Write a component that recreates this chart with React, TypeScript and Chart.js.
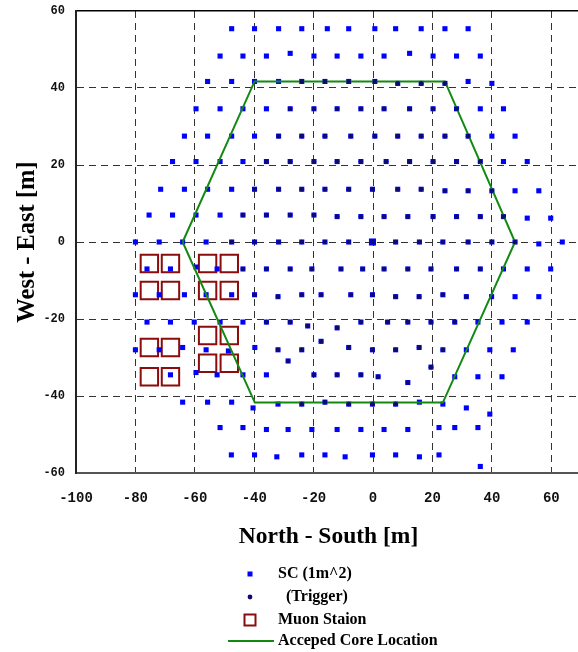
import React, { useEffect, useRef } from "react";
import { Chart, registerables } from "chart.js";

Chart.register(...registerables);

type P = [number, number];

// ---- data ----
const scPoints: P[] = [
  [-47.6, 55.4], [-39.9, 55.4], [-31.8, 55.4], [-24.0, 55.4], [-15.4, 55.4], [-8.2, 55.4], [0.6, 55.4], [7.6, 55.4], [16.2, 55.4], [24.2, 55.4], [32.0, 55.4],
  [-51.5, 48.3], [-43.8, 48.3], [-35.9, 48.3], [-27.9, 49.0], [-19.9, 48.3], [-12.1, 48.3], [-4.1, 48.3], [3.7, 48.3], [12.3, 49.0], [20.2, 48.3], [28.1, 48.3], [36.1, 48.3],
  [-55.7, 41.7], [-47.6, 41.7], [-39.9, 41.7], [-31.8, 41.7], [-24.0, 41.7], [-16.2, 41.7], [-8.2, 41.7], [0.6, 41.7], [8.3, 41.2], [16.2, 41.2], [24.2, 41.2], [32.0, 41.7], [40.0, 41.2],
  [-59.6, 34.6], [-51.5, 34.6], [-43.8, 34.6], [-35.9, 34.6], [-27.9, 34.6], [-19.9, 34.6], [-12.1, 34.6], [-4.1, 34.6], [3.7, 34.6], [12.3, 34.6], [20.2, 34.6], [28.1, 34.6], [36.1, 34.6], [43.9, 34.6],
  [-63.5, 27.5], [-55.7, 27.5], [-47.6, 27.5], [-39.9, 27.5], [-31.8, 27.5], [-24.0, 27.5], [-16.2, 27.5], [-7.5, 27.5], [0.6, 27.5], [8.3, 27.5], [16.2, 27.5], [24.2, 27.5], [32.0, 27.5], [40.0, 27.5], [47.8, 27.5],
  [-67.5, 20.9], [-59.6, 20.9], [-51.5, 20.9], [-43.8, 20.9], [-35.9, 20.9], [-27.9, 20.9], [-19.9, 20.9], [-12.1, 20.9], [-4.1, 20.9], [4.4, 20.9], [12.3, 20.9], [20.2, 20.9], [28.1, 20.9], [36.1, 20.9], [43.9, 20.9], [51.9, 20.9],
  [-71.5, 13.7], [-63.5, 13.7], [-55.7, 13.7], [-47.6, 13.7], [-39.9, 13.7], [-31.8, 13.7], [-24.0, 13.7], [-16.2, 13.7], [-8.2, 13.7], [-0.2, 13.7], [8.3, 13.7], [16.2, 13.7], [24.2, 13.3], [32.0, 13.3], [40.0, 13.3], [47.8, 13.3], [55.8, 13.3],
  [-75.4, 7.0], [-67.5, 7.0], [-59.6, 7.0], [-51.5, 7.0], [-43.8, 7.0], [-35.9, 7.0], [-27.9, 7.0], [-19.9, 7.0], [-12.1, 6.6], [-4.1, 6.6], [3.7, 6.6], [11.7, 6.6], [20.2, 6.6], [28.1, 6.6], [36.1, 6.6], [43.9, 6.6], [51.9, 6.2], [59.8, 6.2],
  [-80.0, 0], [-72.0, 0], [-64.1, 0], [-56.2, 0], [-47.6, 0], [-39.9, 0], [-31.8, 0], [-24.0, 0], [-16.2, 0], [-8.2, 0], [7.6, 0], [15.6, 0], [23.5, 0], [32.0, 0], [40.0, 0], [47.8, 0], [55.8, -0.5], [63.7, 0],
  [-76.1, -7.0], [-68.2, -7.0], [-59.6, -6.5], [-52.5, -7.0], [-43.8, -7.0], [-35.9, -7.0], [-27.9, -7.0], [-20.6, -7.0], [-10.8, -7.0], [-3.5, -7.0], [3.7, -7.0], [11.7, -7.0], [19.5, -7.0], [28.1, -7.0], [36.1, -7.0], [43.9, -7.0], [51.9, -7.0], [59.8, -7.0],
  [-80.0, -13.7], [-72.0, -13.7], [-63.5, -13.7], [-56.2, -13.7], [-47.6, -13.7], [-39.9, -13.7], [-32.0, -14.2], [-24.0, -13.7], [-17.5, -13.7], [-7.5, -13.7], [-0.2, -13.7], [7.6, -14.2], [15.5, -14.2], [23.5, -13.7], [31.4, -14.2], [39.9, -14.2], [47.8, -14.2], [55.8, -14.2],
  [-76.1, -20.8], [-68.2, -20.8], [-60.2, -20.8], [-51.5, -20.8], [-43.8, -20.8], [-35.9, -20.8], [-27.9, -20.8], [-22.0, -21.8], [-12.1, -22.3], [-4.1, -20.8], [4.9, -20.8], [11.7, -20.8], [19.5, -20.8], [27.5, -20.8], [35.3, -20.8], [43.4, -20.8], [51.9, -20.8],
  [-80.0, -28.0], [-72.0, -28.0], [-64.1, -27.4], [-56.2, -28.0], [-48.7, -28.3], [-39.8, -27.4], [-32.0, -28.0], [-24.0, -28.0], [-17.5, -25.8], [-8.2, -27.4], [-0.2, -28.0], [7.6, -28.0], [15.5, -27.4], [23.5, -28.0], [31.4, -28.0], [39.3, -28.0], [47.2, -28.0], [-28.6, -30.9],
  [-68.2, -34.5], [-59.6, -33.9], [-52.5, -34.5], [-43.8, -34.5], [-35.9, -34.5], [-19.9, -34.5], [-12.1, -34.5], [-4.1, -34.5], [1.7, -35.0], [11.7, -36.5], [19.5, -32.5], [27.5, -35.0], [35.3, -35.0], [43.4, -35.0],
  [-64.1, -41.6], [-55.7, -41.6], [-47.6, -41.6], [-40.4, -43.1], [-32.0, -42.1], [-24.0, -42.1], [-16.2, -41.6], [-8.2, -42.1], [-0.2, -42.1], [7.6, -42.1], [15.6, -41.6], [23.5, -42.1], [31.4, -43.1], [39.3, -44.7],
  [-51.5, -48.2], [-43.8, -48.2], [-35.9, -48.7], [-28.6, -48.7], [-20.6, -48.7], [-12.1, -48.7], [-4.1, -48.7], [3.7, -48.7], [11.7, -48.7], [22.2, -48.2], [27.5, -48.2], [35.3, -48.2],
  [-47.7, -55.3], [-39.9, -55.3], [-32.4, -55.8], [-24.0, -55.3], [-16.2, -55.3], [-9.4, -55.8], [-0.2, -55.3], [7.6, -55.3], [15.6, -55.8], [22.2, -55.3], [36.1, -58.3],
];

const scLarge: P[] = [[-0.2, 0]];

const triggerPoints: P[] = [
  [-24.0, 41.7], [-16.2, 41.7], [-8.2, 41.7], [0.6, 41.7], [8.3, 41.2], [16.2, 41.2], [24.2, 41.2],
  [-27.9, 34.6], [-19.9, 34.6], [-12.1, 34.6], [-4.1, 34.6], [3.7, 34.6], [12.3, 34.6], [20.2, 34.6], [28.1, 34.6],
  [-31.8, 27.5], [-24.0, 27.5], [-16.2, 27.5], [-7.5, 27.5], [0.6, 27.5], [8.3, 27.5], [16.2, 27.5], [24.2, 27.5], [32.0, 27.5],
  [-35.9, 20.9], [-27.9, 20.9], [-19.9, 20.9], [-12.1, 20.9], [-4.1, 20.9], [4.4, 20.9], [12.3, 20.9], [20.2, 20.9], [28.1, 20.9], [36.1, 20.9],
  [-39.9, 13.7], [-31.8, 13.7], [-24.0, 13.7], [-16.2, 13.7], [-8.2, 13.7], [-0.2, 13.7], [8.3, 13.7], [16.2, 13.7], [24.2, 13.3], [32.0, 13.3], [40.0, 13.3],
  [-43.8, 7.0], [-35.9, 7.0], [-27.9, 7.0], [-19.9, 7.0], [-12.1, 6.6], [-4.1, 6.6], [3.7, 6.6], [11.7, 6.6], [20.2, 6.6], [28.1, 6.6], [36.1, 6.6], [43.9, 6.6],
  [-47.6, 0], [-39.9, 0], [-31.8, 0], [-24.0, 0], [-16.2, 0], [-8.2, 0], [-0.2, 0], [7.6, 0], [15.6, 0], [23.5, 0], [32.0, 0], [40.0, 0], [47.8, 0],
  [-43.8, -7.0], [-35.9, -7.0], [-27.9, -7.0], [-20.6, -7.0], [-10.8, -7.0], [-3.5, -7.0], [3.7, -7.0], [11.7, -7.0], [19.5, -7.0], [28.1, -7.0], [36.1, -7.0],
  [-39.9, -13.7], [-32.0, -14.2], [-24.0, -13.7], [-17.5, -13.7], [-7.5, -13.7], [-0.2, -13.7], [7.6, -14.2], [15.5, -14.2], [23.5, -13.7], [31.4, -14.2],
  [-35.9, -20.8], [-27.9, -20.8], [-22.0, -21.8], [-12.1, -22.3], [-4.1, -20.8], [4.9, -20.8], [11.7, -20.8], [19.5, -20.8], [27.5, -20.8],
  [-32.0, -28.0], [-24.0, -28.0], [-17.5, -25.8], [-8.2, -27.4], [-0.2, -28.0], [7.6, -28.0], [15.5, -27.4], [23.5, -28.0], [-28.6, -30.9],
  [-19.9, -34.5], [-12.1, -34.5], [-4.1, -34.5], [1.7, -35.0], [11.7, -36.5], [19.5, -32.5],
  [-24.0, -42.1], [-16.2, -41.6], [-8.2, -42.1], [-0.2, -42.1], [7.6, -42.1],
];

const muonStations: P[] = [
  [-75.3, -5.6], [-68.2, -5.6], [-55.7, -5.6], [-48.4, -5.6],
  [-75.3, -12.6], [-68.2, -12.6], [-55.7, -12.6], [-48.4, -12.6],
  [-55.7, -24.3], [-48.4, -24.3],
  [-75.3, -27.4], [-68.2, -27.4],
  [-55.7, -31.5], [-48.4, -31.5],
  [-75.3, -35.0], [-68.2, -35.0],
];

const coreHexagon: P[] = [
  [-64.1, 0], [-39.9, 41.7], [24.2, 41.7], [47.8, 0], [23.5, -41.7], [-39.8, -41.7], [-64.1, 0],
];

const xTicks = [-100, -80, -60, -40, -20, 0, 20, 40, 60];
const yTicks = [-60, -40, -20, 0, 20, 40, 60];
const xRange: [number, number] = [-100, 70];
const yRange: [number, number] = [-60, 60];
const xTitle = "North - South [m]";
const yTitle = "West - East [m]";
const legendLabels = ["SC (1m^2)", "  (Trigger)", "Muon Staion", "Acceped Core Location"];

// ---- styles ----
const BLUE = "#0000ff";
const NAVY = "#0c0c70";
const MAROON = "#8a0c0c";
const GREEN = "#128a12";
const SERIF = "'Liberation Serif', 'Times New Roman', serif";
const MONO = "'Liberation Mono', 'Courier New', monospace";
const CLEAR = "rgba(0,0,0,0)";
const CANVAS_W = 584;
const CANVAS_H = 652;

const toXY = (arr: P[]) => arr.map(([x, y]) => ({ x, y }));

const legendPlugin = {
  id: "customLegend",
  afterDraw(chart: any) {
    const ctx: CanvasRenderingContext2D = chart.ctx;
    const rows = [574, 597, 620, 641];
    const mx = 250;
    const tx = 278;
    ctx.save();
    ctx.fillStyle = BLUE;
    ctx.fillRect(mx - 2.5, rows[0] - 2.5, 5, 5);
    ctx.fillStyle = NAVY;
    ctx.beginPath();
    ctx.arc(mx, rows[1], 2.4, 0, Math.PI * 2);
    ctx.fill();
    ctx.strokeStyle = MAROON;
    ctx.lineWidth = 2;
    ctx.strokeRect(mx - 5.5, rows[2] - 5.5, 11, 11);
    ctx.strokeStyle = GREEN;
    ctx.lineWidth = 2;
    ctx.beginPath();
    ctx.moveTo(228, rows[3]);
    ctx.lineTo(274, rows[3]);
    ctx.stroke();
    ctx.fillStyle = "#000";
    ctx.font = `bold 16px ${SERIF}`;
    ctx.textBaseline = "middle";
    ctx.textAlign = "left";
    legendLabels.forEach((t, i) => ctx.fillText(t, tx, rows[i]));
    ctx.restore();
  },
};

export default function App() {
  const ref = useRef<HTMLCanvasElement>(null);

  useEffect(() => {
    if (!ref.current) return;
    const chart = new Chart(ref.current, {
      type: "scatter",
      data: {
        datasets: [
          {
            label: "(Trigger)",
            data: toXY(triggerPoints),
            pointStyle: "circle",
            pointRadius: 2.3,
            backgroundColor: NAVY,
            borderWidth: 0,
            order: 0,
          },
          {
            label: "Acceped Core Location",
            data: toXY(coreHexagon),
            showLine: true,
            borderColor: GREEN,
            borderWidth: 2,
            pointRadius: 0,
            fill: false,
            tension: 0,
            order: 1,
          },
          {
            label: "SC large",
            data: toXY(scLarge),
            pointStyle: "rect",
            pointRadius: 5,
            backgroundColor: BLUE,
            borderWidth: 0,
            order: 2,
          },
          {
            label: "SC (1m^2)",
            data: toXY(scPoints),
            pointStyle: "rect",
            pointRadius: 3.6,
            backgroundColor: BLUE,
            borderWidth: 0,
            order: 3,
          },
          {
            label: "Muon Staion",
            data: toXY(muonStations),
            pointStyle: "rect",
            pointRadius: 12.3,
            backgroundColor: CLEAR,
            borderColor: MAROON,
            borderWidth: 2,
            order: 4,
          },
        ] as any,
      },
      options: {
        animation: false,
        responsive: false,
        events: [],
        layout: { autoPadding: false, padding: { left: 0, top: 11, right: 3, bottom: 99 } },
        plugins: {
          legend: { display: false },
          tooltip: { enabled: false },
        },
        scales: {
          x: {
            type: "linear",
            min: xRange[0],
            max: xRange[1],
            afterBuildTicks: (s: any) => {
              s.ticks = xTicks.map((v) => ({ value: v }));
            },
            afterFit: (s: any) => {
              s.height = 80;
            },
            grid: { color: "#333", lineWidth: 1, drawTicks: true, tickLength: 16.6, tickColor: CLEAR },
            border: { display: true, color: "#555", width: 2, dash: [7, 5] },
            ticks: {
              font: { family: MONO, size: 14, weight: "bold" },
              color: "#111",
              padding: 0,
              maxRotation: 0,
              autoSkip: false,
            },
            title: {
              display: true,
              text: xTitle,
              color: "#000",
              font: { family: SERIF, size: 23.5, weight: "bold" },
              padding: { top: 0, bottom: 2 },
            },
          },
          y: {
            type: "linear",
            min: yRange[0],
            max: yRange[1],
            afterBuildTicks: (s: any) => {
              s.ticks = yTicks.map((v) => ({ value: v }));
            },
            afterFit: (s: any) => {
              s.width = 76;
            },
            grid: {
              color: (c: any) => (c.tick && c.tick.value === 60 ? "#000" : "#333"),
              lineWidth: (c: any) => (c.tick && c.tick.value === 60 ? 1.5 : 1),
              drawTicks: true,
              tickLength: 11,
              tickColor: CLEAR,
            },
            border: {
              display: true,
              color: "#222",
              width: 2,
              dash: (c: any) => (c.tick && Math.abs(c.tick.value) === 60 ? [] : [7, 5]),
            },
            ticks: {
              font: { family: MONO, size: 12, weight: "bold" },
              color: "#111",
              padding: 0,
              autoSkip: false,
            },
            title: {
              display: true,
              text: yTitle,
              color: "#000",
              font: { family: SERIF, size: 24.5, weight: "bold" },
              padding: { top: 13, bottom: 0 },
            },
          },
        },
      } as any,
      plugins: [legendPlugin],
    });
    return () => chart.destroy();
  }, []);

  return (
    <div
      style={{
        position: "fixed",
        left: 0,
        top: 0,
        width: 578,
        height: 652,
        overflow: "hidden",
        background: "#fff",
      }}
    >
      <canvas ref={ref} width={CANVAS_W} height={CANVAS_H} style={{ display: "block" }} />
    </div>
  );
}
